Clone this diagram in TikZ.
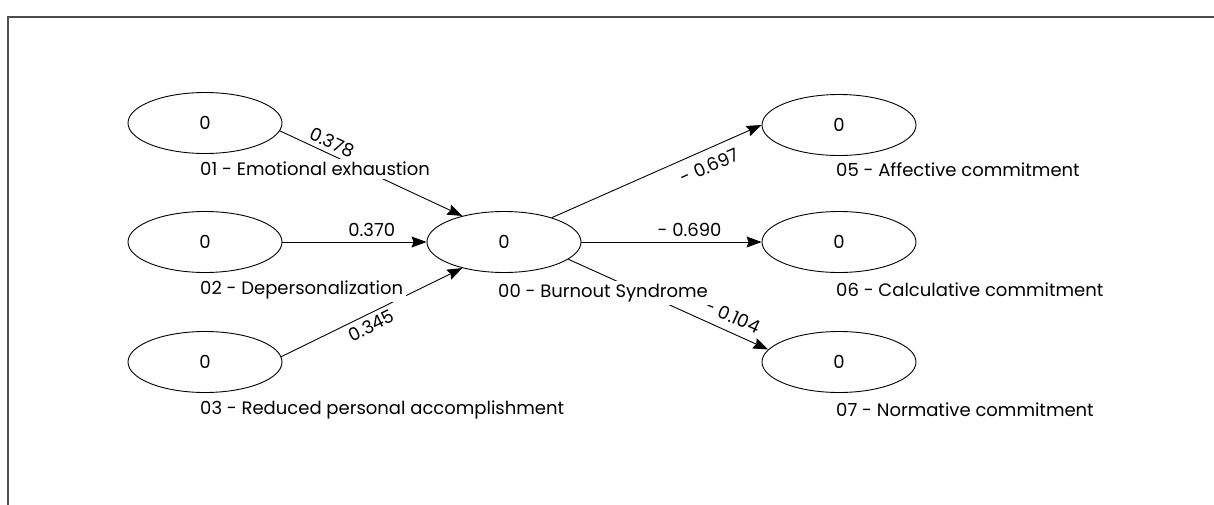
\documentclass[tikz,border=0pt]{standalone}
\usepackage{fontspec}
\setmainfont{Poppins}
\usetikzlibrary{shapes.geometric,arrows.meta}
\begin{document}
\begin{tikzpicture}[x=1pt,y=-1pt,
  lat/.style={ellipse,draw,line width=0.9pt,minimum width=154pt,minimum height=61pt,inner sep=0pt,font=\fontsize{18}{21}\selectfont},
  lbl/.style={anchor=west,fill=white,inner sep=3pt,font=\fontsize{18}{21}\selectfont},
  path/.style={line width=0.9pt,-{Stealth[length=15pt,width=11pt,inset=2pt]}},
  coef/.style={sloped,inner sep=4.5pt,font=\fontsize{18}{21}\selectfont}]
\useasboundingbox (0,0) rectangle (1214,504);
\draw[line width=1.3pt,black!70] (8,1240) -- (8,17) -- (1240,17);
\node[lat] (E1) at (205,123) {0};
\node[lat] (E2) at (205,242) {0};
\node[lat] (E3) at (205,362) {0};
\node[lat] (E0) at (504,242) {0};
\node[lat] (E5) at (839,125) {0};
\node[lat] (E6) at (839,242) {0};
\node[lat] (E7) at (839,362) {0};
\draw[path] (E1.-6) -- node[coef,above,pos=0.26] {0.378} (E0.148);
\draw[path] (E2.east) -- node[coef,above,pos=0.62] {0.370} (E0.west);
\draw[path] (E3.4) -- node[coef,below,pos=0.47] {0.345} (E0.212);
\draw[path] (E0.27) -- node[coef,below=5pt,pos=0.72] {- 0.697} (E5.west);
\draw[path] (E0.east) -- node[coef,above,pos=0.6] {- 0.690} (E6.west);
\draw[path] (E0.-15) -- node[coef,above=4pt,pos=0.79] {- 0.104} (E7.170);
\node[lbl] (L1) at (197,169) {01 - Emotional exhaustion};
\node[lbl] (L2) at (197,290) {02 - Depersonalization};
\node[lbl] (L3) at (197,410) {03 - Reduced personal accomplishment};
\node[lbl] (L0) at (495,293) {00 - Burnout Syndrome};
\node[lbl] (L5) at (833,170) {05 - Affective commitment};
\node[lbl] (L6) at (833,290) {06 - Calculative commitment};
\node[lbl] (L7) at (833,410) {07 - Normative commitment};
\end{tikzpicture}
\end{document}
